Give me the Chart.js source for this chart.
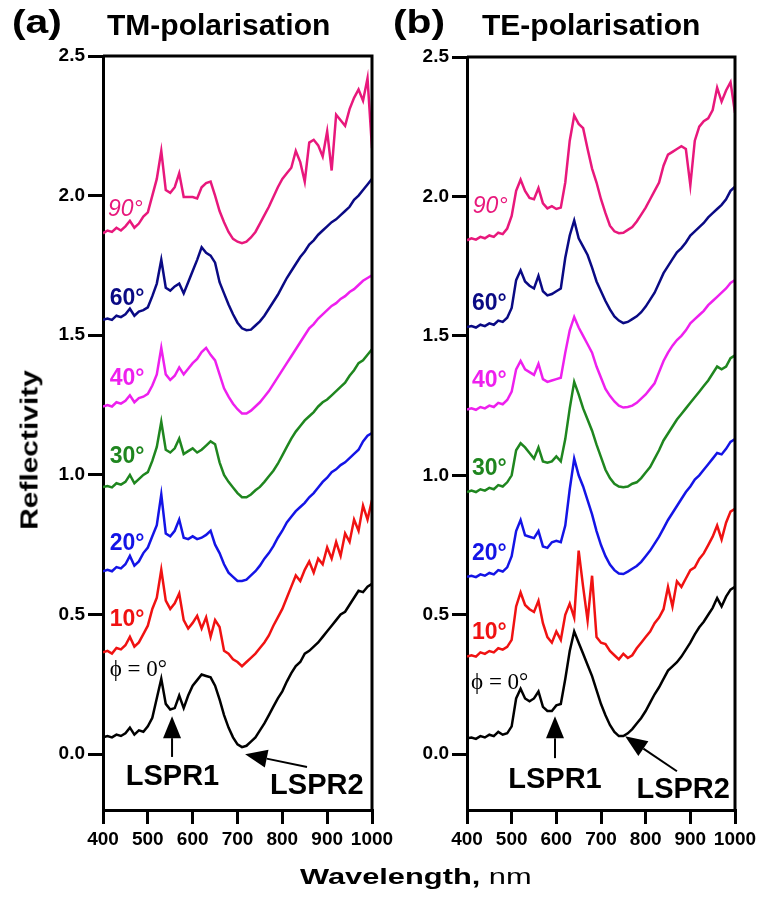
<!DOCTYPE html>
<html>
<head>
<meta charset="utf-8">
<script src="https://cdn.jsdelivr.net/npm/chart.js@4.4.1/dist/chart.umd.min.js"></script>
<style>
  body { margin: 0; background: #fff; width: 761px; height: 898px; position: relative; overflow: hidden; font-family: 'Liberation Sans', Arial, sans-serif; }
  canvas { position: absolute; top: 0; }
  #chartA { left: 0; }
  #chartB { left: 370px; }
  .txt { position: absolute; font-weight: bold; color: #000; white-space: nowrap; line-height: 1; transform-origin: left top; }
  .tag { font-size: 34px; top: 4px; transform: scaleX(1.2); }
  .ttl { font-size: 30px; top: 10px; }
  #xTitle { left: 300px; top: 866px; font-size: 22px; transform: scaleX(1.4); }
  #xTitle span { font-weight: normal; }
  #yTitle { left: 30px; top: 450px; font-size: 23px; transform-origin: center; transform: translate(-50%, -50%) rotate(-90deg) scaleX(1.3); }
</style>
</head>
<body>
<canvas id="chartA" width="400" height="898"></canvas>
<canvas id="chartB" width="391" height="898"></canvas>
<div class="txt tag" style="left:12px">(a)</div>
<div class="txt ttl" style="left:107px">TM-polarisation</div>
<div class="txt tag" style="left:393px">(b)</div>
<div class="txt ttl" style="left:482px">TE-polarisation</div>
<div class="txt" id="xTitle">Wavelength,<span> nm</span></div>
<div class="txt" id="yTitle">Reflectivity</div>
<script>
// wavelength grid (nm) shared by every spectrum
const wavelength = [400, 410, 420, 430, 440, 450, 460, 470, 480, 490,
  500, 510, 520, 530, 540, 550, 560, 570, 580, 590,
  600, 610, 620, 630, 640, 650, 660, 670, 680, 690,
  700, 710, 720, 730, 740, 750, 760, 770, 780, 790,
  800, 810, 820, 830, 840, 850, 860, 870, 880, 890,
  900, 910, 920, 930, 940, 950, 960, 970, 980, 990, 1000]
const yTicks = [0, 0.5, 1, 1.5, 2, 2.5]

// TM spectra, stacked by angle
const tm0 = [0.06, 0.065, 0.06, 0.07, 0.065, 0.075, 0.095, 0.07, 0.085, 0.08,
  0.10, 0.13, 0.20, 0.27, 0.18, 0.16, 0.165, 0.21, 0.165, 0.21,
  0.245, 0.265, 0.285, 0.28, 0.275, 0.245, 0.196, 0.14, 0.095, 0.06,
  0.035, 0.025, 0.03, 0.045, 0.06, 0.085, 0.11, 0.14, 0.17, 0.20,
  0.225, 0.26, 0.29, 0.315, 0.33, 0.36, 0.37, 0.385, 0.40, 0.42,
  0.44, 0.46, 0.48, 0.50, 0.51, 0.535, 0.56, 0.585, 0.58, 0.60, 0.61]
const tm10 = [0.365, 0.37, 0.36, 0.38, 0.375, 0.39, 0.42, 0.385, 0.40, 0.43,
  0.46, 0.52, 0.56, 0.66, 0.55, 0.52, 0.54, 0.575, 0.48, 0.45,
  0.47, 0.495, 0.45, 0.49, 0.42, 0.48, 0.455, 0.37, 0.36, 0.34,
  0.33, 0.315, 0.33, 0.345, 0.36, 0.38, 0.40, 0.425, 0.46, 0.49,
  0.52, 0.56, 0.60, 0.64, 0.62, 0.66, 0.69, 0.65, 0.70, 0.68,
  0.74, 0.70, 0.76, 0.71, 0.79, 0.76, 0.84, 0.80, 0.89, 0.84, 0.91]
const tm20 = [0.655, 0.66, 0.655, 0.67, 0.665, 0.68, 0.71, 0.675, 0.69, 0.72,
  0.74, 0.78, 0.82, 0.93, 0.79, 0.78, 0.80, 0.84, 0.775, 0.77,
  0.78, 0.77, 0.775, 0.785, 0.80, 0.75, 0.72, 0.68, 0.65, 0.635,
  0.62, 0.62, 0.625, 0.64, 0.655, 0.675, 0.70, 0.72, 0.745, 0.775,
  0.80, 0.83, 0.85, 0.87, 0.885, 0.90, 0.92, 0.935, 0.955, 0.975,
  0.99, 1.01, 1.02, 1.035, 1.045, 1.06, 1.075, 1.09, 1.12, 1.14, 1.15]
const tm30 = [0.957, 0.96, 0.955, 0.97, 0.965, 0.975, 1.0, 0.97, 0.985, 1.0,
  1.01, 1.05, 1.10, 1.19, 1.09, 1.08, 1.095, 1.13, 1.075, 1.085,
  1.095, 1.08, 1.09, 1.105, 1.12, 1.11, 1.045, 1.0, 0.975, 0.955,
  0.935, 0.92, 0.92, 0.93, 0.945, 0.957, 0.975, 0.995, 1.015, 1.04,
  1.07, 1.10, 1.13, 1.155, 1.175, 1.195, 1.21, 1.225, 1.245, 1.26,
  1.27, 1.285, 1.30, 1.315, 1.33, 1.355, 1.375, 1.40, 1.41, 1.43, 1.45]
const tm40 = [1.245, 1.25, 1.245, 1.26, 1.255, 1.265, 1.285, 1.26, 1.275, 1.28,
  1.29, 1.32, 1.36, 1.455, 1.36, 1.34, 1.355, 1.385, 1.36, 1.38,
  1.40, 1.415, 1.44, 1.455, 1.43, 1.41, 1.36, 1.31, 1.28, 1.255,
  1.235, 1.22, 1.22, 1.23, 1.245, 1.26, 1.28, 1.30, 1.325, 1.35,
  1.375, 1.40, 1.425, 1.45, 1.475, 1.50, 1.525, 1.54, 1.56, 1.575,
  1.59, 1.605, 1.615, 1.63, 1.64, 1.655, 1.665, 1.68, 1.695, 1.705, 1.715]
const tm60 = [1.555, 1.56, 1.555, 1.57, 1.565, 1.575, 1.595, 1.57, 1.585, 1.59,
  1.60, 1.64, 1.685, 1.77, 1.67, 1.66, 1.675, 1.685, 1.65, 1.69,
  1.73, 1.77, 1.815, 1.795, 1.785, 1.76, 1.69, 1.65, 1.61, 1.575,
  1.545, 1.525, 1.518, 1.52, 1.535, 1.55, 1.57, 1.595, 1.62, 1.645,
  1.675, 1.705, 1.73, 1.755, 1.78, 1.80, 1.825, 1.84, 1.86, 1.875,
  1.89, 1.905, 1.915, 1.93, 1.945, 1.96, 1.985, 2.0, 2.02, 2.04, 2.06]
const tm90 = [1.865, 1.875, 1.87, 1.885, 1.875, 1.89, 1.91, 1.885, 1.90, 1.925,
  1.94, 2.0, 2.06, 2.16, 2.02, 2.01, 2.03, 2.08, 1.995, 1.995,
  1.995, 1.99, 2.03, 2.045, 2.05, 2.0, 1.945, 1.905, 1.87, 1.845,
  1.835, 1.83, 1.835, 1.85, 1.87, 1.90, 1.93, 1.96, 1.995, 2.03,
  2.06, 2.08, 2.10, 2.16, 2.12, 2.05, 2.19, 2.20, 2.18, 2.14,
  2.23, 2.09, 2.29, 2.27, 2.25, 2.31, 2.35, 2.38, 2.34, 2.42, 2.17]

// TE spectra, stacked by angle
const te0 = [0.057, 0.06, 0.055, 0.065, 0.06, 0.07, 0.065, 0.08, 0.07, 0.075,
  0.10, 0.20, 0.235, 0.20, 0.19, 0.20, 0.225, 0.17, 0.155, 0.155,
  0.175, 0.18, 0.27, 0.37, 0.44, 0.40, 0.36, 0.32, 0.28, 0.23,
  0.18, 0.14, 0.105, 0.08, 0.065, 0.065, 0.075, 0.09, 0.11, 0.13,
  0.155, 0.185, 0.215, 0.24, 0.27, 0.30, 0.315, 0.33, 0.35, 0.375,
  0.40, 0.43, 0.455, 0.475, 0.50, 0.525, 0.56, 0.53, 0.565, 0.59, 0.60]
const te10 = [0.35, 0.355, 0.35, 0.365, 0.36, 0.37, 0.365, 0.38, 0.375, 0.385,
  0.41, 0.53, 0.58, 0.535, 0.52, 0.51, 0.55, 0.47, 0.42, 0.40,
  0.44, 0.41, 0.50, 0.54, 0.49, 0.73, 0.60, 0.48, 0.64, 0.42,
  0.40, 0.395, 0.37, 0.355, 0.34, 0.36, 0.345, 0.355, 0.38, 0.40,
  0.42, 0.44, 0.47, 0.49, 0.52, 0.60, 0.53, 0.62, 0.60, 0.63,
  0.66, 0.67, 0.70, 0.72, 0.75, 0.78, 0.82, 0.77, 0.83, 0.87, 0.88]
const te20 = [0.636, 0.64, 0.635, 0.645, 0.64, 0.65, 0.645, 0.66, 0.655, 0.67,
  0.71, 0.80, 0.84, 0.785, 0.78, 0.775, 0.80, 0.745, 0.74, 0.76,
  0.765, 0.76, 0.82, 0.95, 1.06, 1.0, 0.96, 0.91, 0.86, 0.80,
  0.75, 0.71, 0.68, 0.66, 0.648, 0.646, 0.655, 0.665, 0.675, 0.69,
  0.71, 0.73, 0.755, 0.78, 0.81, 0.84, 0.865, 0.89, 0.915, 0.94,
  0.96, 0.985, 1.0, 1.02, 1.04, 1.06, 1.08, 1.075, 1.095, 1.12, 1.13]
const te30 = [0.94, 0.945, 0.94, 0.95, 0.945, 0.955, 0.95, 0.965, 0.96, 0.975,
  1.0, 1.09, 1.115, 1.10, 1.08, 1.06, 1.10, 1.05, 1.045, 1.05,
  1.068, 1.05, 1.13, 1.24, 1.335, 1.29, 1.24, 1.20, 1.16, 1.11,
  1.065, 1.02, 0.99, 0.97, 0.96, 0.957, 0.96, 0.97, 0.975, 0.99,
  1.01, 1.03, 1.06, 1.09, 1.125, 1.15, 1.175, 1.20, 1.22, 1.24,
  1.26, 1.28, 1.30, 1.32, 1.34, 1.365, 1.39, 1.38, 1.39, 1.42, 1.43]
const te40 = [1.236, 1.24, 1.235, 1.245, 1.24, 1.25, 1.245, 1.26, 1.255, 1.27,
  1.30, 1.38, 1.41, 1.38, 1.37, 1.36, 1.40, 1.345, 1.335, 1.34,
  1.345, 1.35, 1.44, 1.52, 1.568, 1.53, 1.50, 1.47, 1.44, 1.39,
  1.35, 1.31, 1.285, 1.265, 1.25, 1.243, 1.245, 1.25, 1.26, 1.275,
  1.29, 1.31, 1.33, 1.37, 1.41, 1.44, 1.465, 1.485, 1.50, 1.52,
  1.545, 1.56, 1.575, 1.59, 1.61, 1.625, 1.64, 1.655, 1.67, 1.69, 1.70]
const te60 = [1.532, 1.535, 1.53, 1.54, 1.535, 1.545, 1.54, 1.555, 1.55, 1.565,
  1.60, 1.70, 1.735, 1.695, 1.68, 1.67, 1.715, 1.66, 1.645, 1.65,
  1.66, 1.67, 1.78, 1.86, 1.914, 1.85, 1.82, 1.79, 1.745, 1.695,
  1.66, 1.625, 1.595, 1.57, 1.555, 1.546, 1.55, 1.56, 1.57, 1.585,
  1.605, 1.63, 1.655, 1.69, 1.725, 1.75, 1.775, 1.80, 1.815, 1.835,
  1.86, 1.875, 1.89, 1.905, 1.925, 1.94, 1.955, 1.97, 1.99, 2.02, 2.035]
const te90 = [1.843, 1.85, 1.845, 1.855, 1.85, 1.86, 1.855, 1.87, 1.865, 1.885,
  1.93, 2.02, 2.06, 2.02, 1.995, 1.99, 2.03, 1.975, 1.957, 1.965,
  1.955, 1.96, 2.05, 2.20, 2.29, 2.26, 2.245, 2.17, 2.10, 2.05,
  1.99, 1.94, 1.895, 1.875, 1.868, 1.87, 1.88, 1.89, 1.91, 1.935,
  1.96, 1.99, 2.02, 2.05, 2.11, 2.15, 2.16, 2.17, 2.18, 2.17,
  2.04, 2.20, 2.25, 2.27, 2.28, 2.31, 2.39, 2.34, 2.38, 2.41, 2.30]

const colors = { a0: '#000000', a10: '#f01212', a20: '#1414e6', a30: '#1f861f', a40: '#ee20ee', a60: '#0a0a84', a90: '#e8187c' }

const tmSeries = [[tm0, colors.a0], [tm10, colors.a10], [tm20, colors.a20], [tm30, colors.a30], [tm40, colors.a40], [tm60, colors.a60], [tm90, colors.a90]]
const teSeries = [[te0, colors.a0], [te10, colors.a10], [te20, colors.a20], [te30, colors.a30], [te40, colors.a40], [te60, colors.a60], [te90, colors.a90]]

const degFont = 'bold 23px "Liberation Sans", Arial, sans-serif'
const lsprFont = 'bold 29px "Liberation Sans", Arial, sans-serif'
const phiFont = '23px "Liberation Serif", "DejaVu Serif", serif'

const tmTexts = [
  { text: '90°', x: 411, y: 1.95, color: colors.a90, font: 'italic 23px "Liberation Sans", Arial, sans-serif' },
  { text: '60°', x: 415, y: 1.63, color: colors.a60, font: degFont },
  { text: '40°', x: 415, y: 1.343, color: colors.a40, font: degFont },
  { text: '30°', x: 415, y: 1.064, color: colors.a30, font: degFont },
  { text: '20°', x: 415, y: 0.754, color: colors.a20, font: degFont },
  { text: '10°', x: 415, y: 0.482, color: colors.a10, font: degFont },
  { text: 'ϕ = 0°', x: 415, y: 0.30, color: '#000', font: phiFont },
  { text: 'LSPR1', x: 555, y: -0.082, color: '#000', font: lsprFont, align: 'center' },
  { text: 'LSPR2', x: 877, y: -0.114, color: '#000', font: lsprFont, align: 'center' }
]
const teTexts = [
  { text: '90°', x: 413, y: 1.964, color: colors.a90, font: 'italic 23px "Liberation Sans", Arial, sans-serif' },
  { text: '60°', x: 411, y: 1.614, color: colors.a60, font: degFont },
  { text: '40°', x: 411, y: 1.339, color: colors.a40, font: degFont },
  { text: '30°', x: 411, y: 1.025, color: colors.a30, font: degFont },
  { text: '20°', x: 411, y: 0.718, color: colors.a20, font: degFont },
  { text: '10°', x: 411, y: 0.436, color: colors.a10, font: degFont },
  { text: 'ϕ = 0°', x: 409, y: 0.257, color: '#000', font: phiFont },
  { text: 'LSPR1', x: 597, y: -0.093, color: '#000', font: lsprFont, align: 'center' },
  { text: 'LSPR2', x: 884, y: -0.129, color: '#000', font: lsprFont, align: 'center' }
]

// arrows: [tailX, tailY, tipX, tipY] in data units
const tmArrows = [[554, -0.01, 554, 0.136], [855, -0.046, 717, 0.0]]
const teArrows = [[597, -0.014, 597, 0.136], [870, -0.061, 754, 0.064]]

const drawArrow = (ctx, x0, y0, x1, y1) => {
    const ang = Math.atan2(y1 - y0, x1 - x0)
    const headLen = 22
    const headW = 9
    const bx = x1 - headLen * Math.cos(ang)
    const by = y1 - headLen * Math.sin(ang)
    ctx.beginPath()
    ctx.moveTo(x0, y0)
    ctx.lineTo(bx, by)
    ctx.stroke()
    ctx.beginPath()
    ctx.moveTo(x1, y1)
    ctx.lineTo(bx + headW * Math.sin(ang), by - headW * Math.cos(ang))
    ctx.lineTo(bx - headW * Math.sin(ang), by + headW * Math.cos(ang))
    ctx.closePath()
    ctx.fill()
}

// labels, arrows and the top/right edges of the frame
const makeMarks = (texts, arrows) => ({
    id: 'panelMarks',
    afterDatasetsDraw(chart) {
        const { ctx, chartArea, scales: { x, y } } = chart
        ctx.save()
        texts.forEach(t => {
            ctx.font = t.font
            ctx.fillStyle = t.color
            ctx.textAlign = t.align || 'left'
            ctx.textBaseline = 'middle'
            ctx.fillText(t.text, x.getPixelForValue(t.x), y.getPixelForValue(t.y))
        })
        ctx.strokeStyle = '#000'
        ctx.fillStyle = '#000'
        ctx.lineWidth = 2
        arrows.forEach(a => drawArrow(ctx, x.getPixelForValue(a[0]), y.getPixelForValue(a[1]), x.getPixelForValue(a[2]), y.getPixelForValue(a[3])))
        ctx.lineWidth = 3
        ctx.beginPath()
        ctx.moveTo(chartArea.left, chartArea.top)
        ctx.lineTo(chartArea.right, chartArea.top)
        ctx.lineTo(chartArea.right, chartArea.bottom)
        ctx.stroke()
        ctx.restore()
    }
})

const tickFont = { family: '"Liberation Sans", Arial, sans-serif', size: 19, weight: 'bold' }

const makeChart = (id, series, texts, arrows, axisW, padTop, padRight) => new Chart(document.getElementById(id), {
    type: 'line',
    data: {
        datasets: series.map(([vals, color]) => ({
            data: wavelength.map((w, i) => ({ x: w, y: vals[i] })),
            borderColor: color,
            borderWidth: 2.5,
            pointRadius: 0,
            tension: 0,
            fill: false
        }))
    },
    options: {
        responsive: false,
        animation: false,
        devicePixelRatio: 1,
        layout: { padding: { top: padTop, right: padRight, left: 0, bottom: 0 } },
        plugins: { legend: { display: false }, tooltip: { enabled: false } },
        scales: {
            x: {
                type: 'linear',
                min: 400,
                max: 1000,
                afterFit: s => { s.height = 88 },
                ticks: { stepSize: 100, autoSkip: false, maxRotation: 0, padding: 4, color: '#000', font: tickFont, callback: v => String(v) },
                grid: { drawOnChartArea: false, tickLength: 14, lineWidth: 3, color: '#000' },
                border: { width: 3, color: '#000' }
            },
            y: {
                min: -0.2,
                max: 2.5,
                afterFit: s => { s.width = axisW },
                afterBuildTicks: s => { s.ticks = yTicks.map(v => ({ value: v })) },
                ticks: { padding: 3, color: '#000', font: tickFont, callback: v => v.toFixed(1) },
                grid: { drawOnChartArea: false, tickLength: 15, lineWidth: 3, color: '#000' },
                border: { width: 3, color: '#000' }
            }
        }
    },
    plugins: [makeMarks(texts, arrows)]
})

makeChart('chartA', tmSeries, tmTexts, tmArrows, 103, 56, 28)
makeChart('chartB', teSeries, teTexts, teArrows, 97, 57, 26)
</script>
</body>
</html>
